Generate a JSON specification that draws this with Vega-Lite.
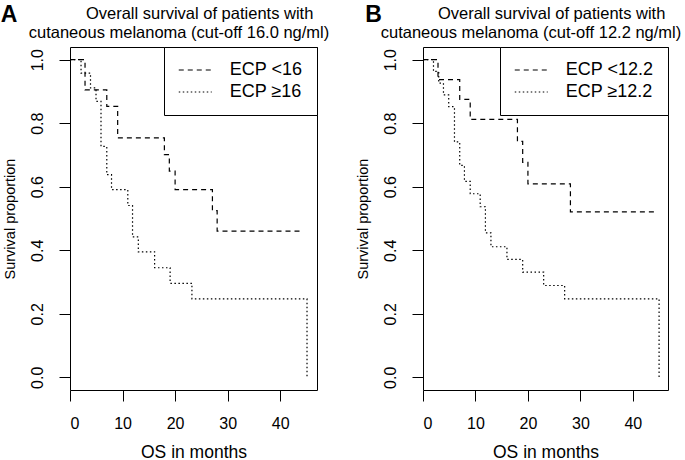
{
  "$schema": "https://vega.github.io/schema/vega-lite/v6.json",
  "padding": {"left": 0, "top": 3, "right": 0, "bottom": 0},
  "background": "white",
  "spacing": 106,
  "bounds": "flush",
  "config": {
    "font": "Liberation Sans",
    "view": {"stroke": "black", "strokeWidth": 1},
    "axis": {
      "grid": false, "domain": false, "tickColor": "black", "tickWidth": 1, "tickSize": 11,
      "labelColor": "black", "titleColor": "black", "labelFontSize": 16, "titleFontWeight": "normal"
    },
    "axisX": {"labelPadding": 14, "titleFontSize": 17.5, "titlePadding": 12},
    "axisY": {"labelAngle": -90, "labelAlign": "center", "labelBaseline": "alphabetic", "labelPadding": 17, "titleFontSize": 14.5, "titlePadding": 15, "titleBaseline": "alphabetic"},
    "title": {"fontSize": 16.5, "fontWeight": "normal", "lineHeight": 19.5, "color": "black", "dx": -14.5, "offset": -38, "frame": "group"},
    "legend": {
      "orient": "top-right", "offset": 0, "strokeColor": "black", "fillColor": "white", "padding": 14,
      "labelFontSize": 18, "labelColor": "black", "symbolType": "M-2,0H2", "symbolSize": 272, "symbolOffset": 8.25,
      "symbolStrokeColor": "black", "symbolStrokeWidth": 1.2, "labelOffset": 25.5, "rowPadding": 4,
      "cornerRadius": 0, "labelLimit": 300
    }
  },
  "hconcat": [
    {
      "width": 247, "height": 343,
      "title": {"text": ["\u200b\u00a0\u00a0\u00a0\u00a0\u00a0\u00a0\u00a0\u00a0\u00a0Overall survival of patients with", "cutaneous melanoma (cut-off 16.0 ng/ml)"]},
      "layer": [
        {
          "data": {"values": [
            {"g": "ECP <16", "t": 0, "s": 1}, {"g": "ECP <16", "t": 2.86, "s": 0.905}, {"g": "ECP <16", "t": 7.0, "s": 0.853},
            {"g": "ECP <16", "t": 9.07, "s": 0.754}, {"g": "ECP <16", "t": 17.96, "s": 0.701}, {"g": "ECP <16", "t": 18.9, "s": 0.649},
            {"g": "ECP <16", "t": 20.0, "s": 0.591}, {"g": "ECP <16", "t": 27.1, "s": 0.525}, {"g": "ECP <16", "t": 28.0, "s": 0.46},
            {"g": "ECP <16", "t": 44.1, "s": 0.46},
            {"g": "ECP ≥16", "t": 0, "s": 1}, {"g": "ECP ≥16", "t": 2.1, "s": 0.958}, {"g": "ECP ≥16", "t": 3.9, "s": 0.911},
            {"g": "ECP ≥16", "t": 4.95, "s": 0.869}, {"g": "ECP ≥16", "t": 5.9, "s": 0.727}, {"g": "ECP ≥16", "t": 7.0, "s": 0.638},
            {"g": "ECP ≥16", "t": 7.9, "s": 0.591}, {"g": "ECP ≥16", "t": 11.0, "s": 0.541}, {"g": "ECP ≥16", "t": 11.9, "s": 0.442},
            {"g": "ECP ≥16", "t": 13.0, "s": 0.395}, {"g": "ECP ≥16", "t": 16.1, "s": 0.345}, {"g": "ECP ≥16", "t": 19.05, "s": 0.296},
            {"g": "ECP ≥16", "t": 23.2, "s": 0.247}, {"g": "ECP ≥16", "t": 45.1, "s": 0}
          ]},
          "mark": {"type": "line", "interpolate": "step-after", "color": "black", "strokeWidth": 1.2},
          "encoding": {
            "x": {"field": "t", "type": "quantitative", "scale": {"domain": [0, 47], "nice": false, "zero": false},
                  "axis": {"values": [0, 10, 20, 30, 40], "title": "OS in months"}},
            "y": {"field": "s", "type": "quantitative", "scale": {"domain": [-0.04, 1.04], "nice": false, "zero": false},
                  "axis": {"values": [0, 0.2, 0.4, 0.6, 0.8, 1.0], "format": ".1f", "title": "Survival proportion"}},
            "strokeDash": {"field": "g", "type": "nominal",
                           "scale": {"domain": ["ECP <16", "ECP ≥16"], "range": [[5, 4], [1.5, 2.5]]},
                           "legend": {"title": null}}
          }
        },
        {
          "data": {"values": [{"lab": "A"}]},
          "mark": {"type": "text", "fontSize": 23, "fontWeight": "bold", "color": "black", "align": "center", "baseline": "middle"},
          "encoding": {"text": {"field": "lab"}, "x": {"datum": -11.6}, "y": {"datum": 1.1415}}
        }
      ]
    },
    {
      "width": 245, "height": 343,
      "title": {"text": ["\u200b\u00a0\u00a0\u00a0\u00a0\u00a0\u00a0\u00a0\u00a0\u00a0Overall survival of patients with", "cutaneous melanoma (cut-off 12.2 ng/ml)"]},
      "layer": [
        {
          "data": {"values": [
            {"g": "ECP <12.2", "t": 0, "s": 1}, {"g": "ECP <12.2", "t": 2.86, "s": 0.937}, {"g": "ECP <12.2", "t": 7.0, "s": 0.875},
            {"g": "ECP <12.2", "t": 9.0, "s": 0.812}, {"g": "ECP <12.2", "t": 18.0, "s": 0.743}, {"g": "ECP <12.2", "t": 19.0, "s": 0.677},
            {"g": "ECP <12.2", "t": 20.0, "s": 0.609}, {"g": "ECP <12.2", "t": 28.1, "s": 0.521}, {"g": "ECP <12.2", "t": 44.3, "s": 0.521},
            {"g": "ECP ≥12.2", "t": 0, "s": 1}, {"g": "ECP ≥12.2", "t": 2.0, "s": 0.963}, {"g": "ECP ≥12.2", "t": 3.0, "s": 0.926},
            {"g": "ECP ≥12.2", "t": 3.9, "s": 0.889}, {"g": "ECP ≥12.2", "t": 4.9, "s": 0.852}, {"g": "ECP ≥12.2", "t": 6.0, "s": 0.741},
            {"g": "ECP ≥12.2", "t": 7.0, "s": 0.667}, {"g": "ECP ≥12.2", "t": 7.9, "s": 0.617}, {"g": "ECP ≥12.2", "t": 9.0, "s": 0.578},
            {"g": "ECP ≥12.2", "t": 10.9, "s": 0.537}, {"g": "ECP ≥12.2", "t": 11.9, "s": 0.455}, {"g": "ECP ≥12.2", "t": 12.95, "s": 0.411},
            {"g": "ECP ≥12.2", "t": 16.0, "s": 0.371}, {"g": "ECP ≥12.2", "t": 19.0, "s": 0.331}, {"g": "ECP ≥12.2", "t": 23.0, "s": 0.289},
            {"g": "ECP ≥12.2", "t": 27.0, "s": 0.247}, {"g": "ECP ≥12.2", "t": 45.0, "s": 0}
          ]},
          "mark": {"type": "line", "interpolate": "step-after", "color": "black", "strokeWidth": 1.2},
          "encoding": {
            "x": {"field": "t", "type": "quantitative", "scale": {"domain": [0, 46.7], "nice": false, "zero": false},
                  "axis": {"values": [0, 10, 20, 30, 40], "title": "OS in months"}},
            "y": {"field": "s", "type": "quantitative", "scale": {"domain": [-0.04, 1.04], "nice": false, "zero": false},
                  "axis": {"values": [0, 0.2, 0.4, 0.6, 0.8, 1.0], "format": ".1f", "title": "Survival proportion"}},
            "strokeDash": {"field": "g", "type": "nominal",
                           "scale": {"domain": ["ECP <12.2", "ECP ≥12.2"], "range": [[5, 4], [1.5, 2.5]]},
                           "legend": {"title": null}}
          }
        },
        {
          "data": {"values": [{"lab": "B"}]},
          "mark": {"type": "text", "fontSize": 23, "fontWeight": "bold", "color": "black", "align": "center", "baseline": "middle"},
          "encoding": {"text": {"field": "lab"}, "x": {"datum": -9.4}, "y": {"datum": 1.1415}}
        }
      ]
    }
  ],
  "resolve": {"scale": {"strokeDash": "independent"}, "legend": {"strokeDash": "independent"}}
}
